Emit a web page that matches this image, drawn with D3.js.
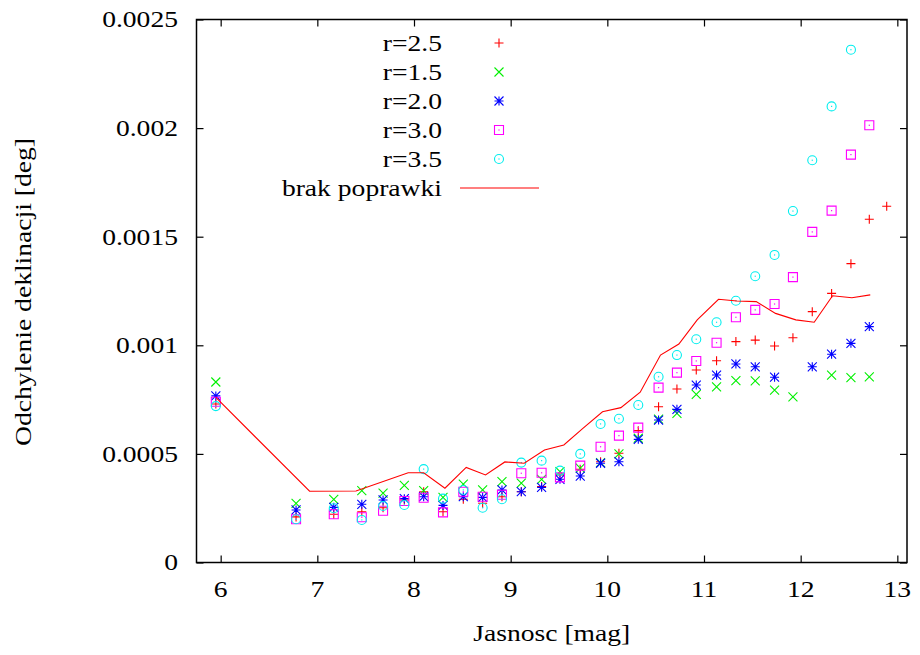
<!DOCTYPE html>
<html><head><meta charset="utf-8">
<script src="https://cdn.jsdelivr.net/npm/d3@7"></script>
<style>body{margin:0;background:#fff}svg{display:block}text{font-family:"Liberation Serif","Times New Roman",serif;fill:#000}</style>
</head><body><svg id="c" width="920" height="655"></svg>
<script>
const xs = [5.95, 6.78, 7.17, 7.46, 7.68, 7.9, 8.1, 8.3, 8.51, 8.71, 8.91, 9.11, 9.32, 9.51, 9.72, 9.93, 10.12, 10.32, 10.53, 10.72, 10.92, 11.13, 11.33, 11.53, 11.73, 11.92, 12.12, 12.32, 12.52, 12.71, 12.89];
const r25 = [0.00073, 0.00021, 0.000222, 0.000234, 0.000252, 0.000288, 0.000326, 0.000234, 0.000291, 0.000273, 0.000303, 0.000326, 0.00035, 0.000403, 0.000429, 0.000464, 0.000503, 0.000607, 0.000717, 0.000799, 0.000886, 0.000929, 0.001017, 0.001024, 0.000997, 0.001035, 0.001155, 0.001239, 0.001376, 0.00158, 0.00164];
const r15 = [0.000831, 0.000272, 0.000291, 0.000331, 0.000319, 0.000355, 0.000331, 0.0003, 0.000361, 0.000334, 0.000372, 0.000365, 0.000383, 0.000418, 0.000434, 0.00046, 0.0005, 0.000572, 0.00066, 0.000687, 0.000774, 0.000809, 0.000837, 0.000836, 0.000794, 0.000763, null, 0.000863, 0.000851, 0.000855, null];
const r20 = [0.000767, 0.000242, 0.000254, 0.000268, 0.000288, 0.000294, 0.000303, 0.000263, 0.000303, 0.0003, 0.000334, 0.000326, 0.000346, 0.000383, 0.000398, 0.000457, 0.000464, 0.000567, 0.000656, 0.000705, 0.000817, 0.000863, 0.000914, 0.000901, 0.000853, null, 0.000901, 0.000959, 0.001009, 0.001086, null];
const r30 = [0.00074, 0.000199, 0.000222, 0.000208, 0.000238, 0.000283, 0.000298, 0.000231, 0.000326, 0.000303, 0.000312, 0.000411, 0.000413, 0.000392, 0.000446, 0.000533, 0.000584, 0.000621, 0.000805, 0.000874, 0.000928, 0.001012, 0.001129, 0.001163, 0.00119, 0.001314, 0.001522, 0.00162, 0.001878, 0.002013, null];
const r35 = [0.00072, 0.000199, 0.00025, 0.000196, 0.00026, 0.000265, 0.00043, 0.000294, 0.000334, 0.000252, 0.000291, 0.00046, 0.000469, 0.000423, 0.0005, 0.000638, 0.000662, 0.000725, 0.000855, 0.000955, 0.001028, 0.001106, 0.001205, 0.001318, 0.001416, 0.001618, 0.001852, 0.0021, 0.002361, null, null];
const lineX = [5.95, 6.92, 7.40, 7.94, 8.10, 8.32, 8.54, 8.74, 8.94, 9.14, 9.35, 9.55, 9.75, 9.95, 10.14, 10.34, 10.55, 10.74, 10.93, 11.15, 11.34, 11.54, 11.74, 11.95, 12.14, 12.33, 12.53, 12.72];
const lineY = [0.00076, 0.000328, 0.000329, 0.000413, 0.000413, 0.000342, 0.000438, 0.000403, 0.000463, 0.000457, 0.000518, 0.000541, 0.000619, 0.000694, 0.000713, 0.000784, 0.000955, 0.001006, 0.001117, 0.001212, 0.001204, 0.001201, 0.001147, 0.001117, 0.001106, 0.001228, 0.001219, 0.001232];
const xTicks = [6, 7, 8, 9, 10, 11, 12, 13];
const yTicks = [0, 0.0005, 0.001, 0.0015, 0.002, 0.0025];
const yTickLabels = ["0", "0.0005", "0.001", "0.0015", "0.002", "0.0025"];
const seriesNames = ["r=2.5", "r=1.5", "r=2.0", "r=3.0", "r=3.5"];
const seriesColors = ["#ff0000", "#00f000", "#0000ff", "#ff00ff", "#00eeee"];
const seriesSymbols = ["plus", "cross", "star", "box", "circle"];
const lineName = "brak poprawki";

const svg = d3.select("#c");
const L = 196.5, R = 907, T = 19.5, B = 562.5;
const xS = d3.scaleLinear().domain([5.75, 13.1]).range([L, R]);
const yS = d3.scaleLinear().domain([0, 0.0025]).range([B, T]);
const FS = 23, SX = 1.2;

function label(px, py, str, anchor, rot) {
  return svg.append("text")
    .attr("transform", `translate(${px},${py})` + (rot ? ` rotate(${rot})` : "") + ` scale(${SX},1)`)
    .attr("dy", "0.34em").attr("text-anchor", anchor).style("font-size", FS + "px").text(str);
}

function sym(g, type, cx, cy, color) {
  const s = 4.5;
  let d = "";
  if (type === "plus" || type === "star") d += `M${cx-s},${cy}H${cx+s}M${cx},${cy-s}V${cy+s}`;
  if (type === "cross" || type === "star") d += `M${cx-s},${cy-s}L${cx+s},${cy+s}M${cx-s},${cy+s}L${cx+s},${cy-s}`;
  if (type === "box") d += `M${cx-s},${cy-s}H${cx+s}V${cy+s}H${cx-s}Z`;
  if (d) g.append("path").attr("d", d).attr("fill", "none").attr("stroke", color).attr("stroke-width", 1.1);
  if (type === "circle") g.append("circle").attr("cx", cx).attr("cy", cy).attr("r", s).attr("fill", "none").attr("stroke", color).attr("stroke-width", 1.1);
  if (type === "box" || type === "circle") g.append("rect").attr("x", cx-0.6).attr("y", cy-0.6).attr("width", 1.2).attr("height", 1.2).attr("fill", color);
}

// axes with inward ticks on all sides
const axG = svg.append("g");
const tl = 7;
const axBottom = d3.axisBottom(xS).tickValues(xTicks).tickSize(-tl).tickFormat("");
const axTop = d3.axisTop(xS).tickValues(xTicks).tickSize(-tl).tickFormat("");
const axLeft = d3.axisLeft(yS).tickValues(yTicks).tickSize(-tl).tickFormat("");
const axRight = d3.axisRight(yS).tickValues(yTicks).tickSize(-tl).tickFormat("");
[[axBottom, `translate(0,${B})`], [axTop, `translate(0,${T})`], [axLeft, `translate(${L},0)`], [axRight, `translate(${R},0)`]].forEach(([a, t]) => {
  const g = axG.append("g").attr("transform", t).call(a);
  g.select(".domain").remove();
  g.selectAll("line").attr("stroke", "#000").attr("stroke-width", 1.2);
});
axG.append("rect").attr("x", L).attr("y", T).attr("width", R - L).attr("height", B - T)
  .attr("fill", "none").attr("stroke", "#000").attr("stroke-width", 1.5);
xTicks.forEach(v => label(xS(v), B + 27, String(v), "middle"));
yTicks.forEach((v, i) => label(178, yS(v), yTickLabels[i], "end"));

// series
const all = [r25, r15, r20, r30, r35];
all.forEach((vals, si) => {
  const g = svg.append("g");
  vals.forEach((v, i) => { if (v != null) sym(g, seriesSymbols[si], xS(xs[i]), yS(v), seriesColors[si]); });
});
const lineData = lineX.map((v, i) => [v, lineY[i]]);
svg.append("path").datum(lineData)
  .attr("d", d3.line().x(d => xS(d[0])).y(d => yS(d[1])))
  .attr("fill", "none").attr("stroke", "#ff0000").attr("stroke-width", 1.1);

// legend
const lg = svg.append("g");
const rows = [43, 72, 101, 130, 159, 188];
seriesNames.forEach((n, i) => {
  label(442, rows[i], n, "end");
  sym(lg, seriesSymbols[i], 499, rows[i], seriesColors[i]);
});
label(442, rows[5], lineName, "end");
lg.append("line").attr("x1", 460).attr("x2", 539).attr("y1", rows[5]).attr("y2", rows[5]).attr("stroke", "#ff0000").attr("stroke-width", 1.1);

// axis titles
label((L + R) / 2, 633, "Jasnosc [mag]", "middle");
label(23, 292, "Odchylenie deklinacji [deg]", "middle", -90);
</script></body></html>
